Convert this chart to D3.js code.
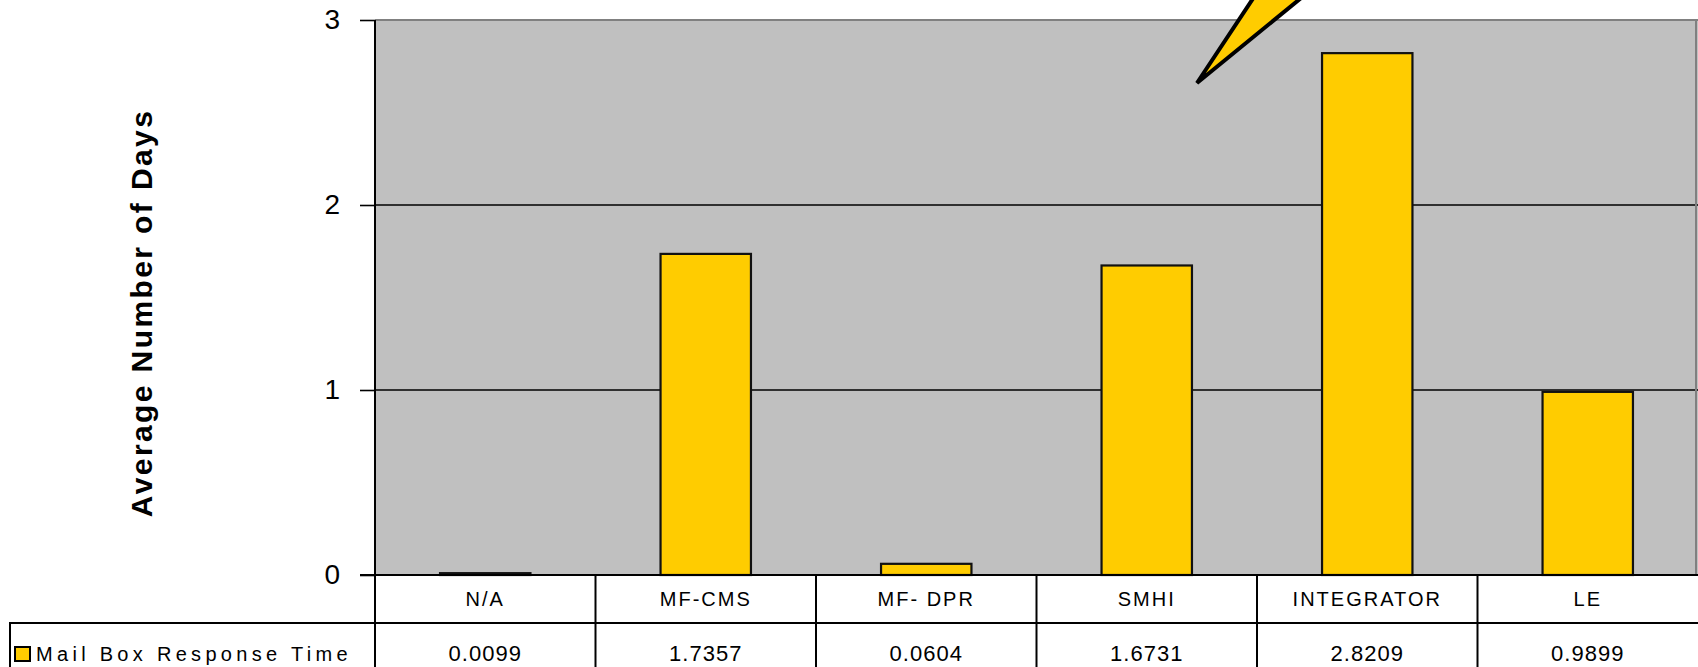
<!DOCTYPE html>
<html>
<head>
<meta charset="utf-8">
<script src="https://cdn.jsdelivr.net/npm/d3@7"></script>
<style>
  html, body { margin: 0; padding: 0; background: #fff; }
  svg { display: block; }
  text { font-family: "Liberation Sans", Arial, sans-serif; fill: #000; }
</style>
</head>
<body>
<svg id="chart" width="1698" height="667"></svg>
<script>
(function () {
  'use strict';

  // chart data
  const categories = ['N/A', 'MF-CMS', 'MF- DPR', 'SMHI', 'INTEGRATOR', 'LE'];
  const responseDays = [0.0099, 1.7357, 0.0604, 1.6731, 2.8209, 0.9899];
  const valueLabels = ['0.0099', '1.7357', '0.0604', '1.6731', '2.8209', '0.9899'];
  const seriesName = 'Mail Box Response Time';
  const yTicks = [0, 1, 2, 3];
  const yTitle = 'Average Number of Days';

  const H = 667;
  const plot = { left: 375, right: 1698, top: 20, bottom: 575 };
  const rowH = 48;
  const legendLeft = 9;
  const yellow = '#ffcc00';

  const svg = d3.select('#chart');

  const y = d3.scaleLinear().domain([0, 3]).range([plot.bottom, plot.top]);
  const x = d3.scaleBand().domain(categories)
    .range([plot.left, plot.right])
    .paddingInner(0.59).paddingOuter(0.295);
  const col = d3.scaleBand().domain(categories)
    .range([plot.left, plot.right]);

  // plot background
  svg.append('rect')
    .attr('x', plot.left).attr('y', plot.top)
    .attr('width', plot.right - plot.left).attr('height', plot.bottom - plot.top)
    .attr('fill', '#c0c0c0');

  // gridlines
  svg.append('g').selectAll('line')
    .data(yTicks.filter((d) => d > 0 && d < 3))
    .enter().append('line')
    .attr('x1', plot.left).attr('x2', plot.right)
    .attr('y1', (d) => y(d)).attr('y2', (d) => y(d))
    .attr('stroke', '#000').attr('stroke-width', 1.6);

  // plot area border (top / right)
  svg.append('line')
    .attr('x1', plot.left).attr('x2', plot.right)
    .attr('y1', y(3)).attr('y2', y(3))
    .attr('stroke', '#808080').attr('stroke-width', 2);
  svg.append('line')
    .attr('x1', plot.right - 2).attr('x2', plot.right - 2)
    .attr('y1', plot.top).attr('y2', plot.bottom)
    .attr('stroke', '#808080').attr('stroke-width', 2);

  // bars
  svg.append('g').selectAll('rect')
    .data(responseDays)
    .enter().append('rect')
    .attr('x', (d, i) => x(categories[i]))
    .attr('y', (d) => y(d))
    .attr('width', x.bandwidth())
    .attr('height', (d) => y(0) - y(d))
    .attr('fill', yellow)
    .attr('stroke', '#111')
    .attr('stroke-width', 2.2);

  // y axis
  const axis = d3.axisLeft(y)
    .tickValues(yTicks)
    .tickSize(15)
    .tickPadding(20)
    .tickFormat(d3.format('d'));
  const gAxis = svg.append('g')
    .attr('transform', 'translate(' + plot.left + ',0)')
    .call(axis);
  gAxis.select('.domain').remove();
  gAxis.selectAll('.tick line').attr('stroke', '#000').attr('stroke-width', 1.6);
  gAxis.selectAll('.tick text')
    .attr('font-size', 28)
    .attr('font-family', '"Liberation Sans", Arial, sans-serif')
    .attr('fill', '#000');

  // vertical axis line running through the table
  svg.append('line')
    .attr('x1', plot.left).attr('x2', plot.left)
    .attr('y1', plot.top).attr('y2', H)
    .attr('stroke', '#000').attr('stroke-width', 2);

  // y title
  svg.append('text')
    .attr('transform', 'translate(141,' + ((108 + 518) / 2) + ') rotate(-90)')
    .attr('text-anchor', 'middle')
    .attr('dominant-baseline', 'central')
    .attr('font-size', 30)
    .attr('font-weight', 'bold')
    .attr('letter-spacing', 2.4)
    .text(yTitle);

  // data table
  const table = svg.append('g');
  const row1 = plot.bottom;
  const row2 = plot.bottom + rowH;

  table.append('line')
    .attr('x1', plot.left - 15).attr('x2', plot.right)
    .attr('y1', row1).attr('y2', row1)
    .attr('stroke', '#000').attr('stroke-width', 2);
  table.append('line')
    .attr('x1', legendLeft).attr('x2', plot.right)
    .attr('y1', row2).attr('y2', row2)
    .attr('stroke', '#000').attr('stroke-width', 2);
  table.append('line')
    .attr('x1', legendLeft + 1).attr('x2', legendLeft + 1)
    .attr('y1', row2).attr('y2', H)
    .attr('stroke', '#000').attr('stroke-width', 2);

  table.selectAll('line.col')
    .data(categories.slice(1))
    .enter().append('line')
    .attr('class', 'col')
    .attr('x1', (d) => col(d)).attr('x2', (d) => col(d))
    .attr('y1', row1).attr('y2', H)
    .attr('stroke', '#000').attr('stroke-width', 2);

  table.selectAll('text.cat')
    .data(categories)
    .enter().append('text')
    .attr('class', 'cat')
    .attr('x', (d) => col(d) + col.bandwidth() / 2)
    .attr('y', row1 + rowH / 2)
    .attr('text-anchor', 'middle')
    .attr('dominant-baseline', 'central')
    .attr('font-size', 20)
    .attr('letter-spacing', 2)
    .text((d) => d);

  table.selectAll('text.val')
    .data(valueLabels)
    .enter().append('text')
    .attr('class', 'val')
    .attr('x', (d, i) => col(categories[i]) + col.bandwidth() / 2)
    .attr('y', row2 + 30)
    .attr('text-anchor', 'middle')
    .attr('dominant-baseline', 'central')
    .attr('font-size', 22)
    .attr('letter-spacing', 1)
    .text((d) => d);

  // legend key + series name
  table.append('rect')
    .attr('x', 15).attr('y', row2 + 24)
    .attr('width', 15).attr('height', 14)
    .attr('fill', yellow)
    .attr('stroke', '#000').attr('stroke-width', 2);
  table.append('text')
    .attr('x', 36).attr('y', row2 + 31)
    .attr('dominant-baseline', 'central')
    .attr('font-size', 20)
    .attr('letter-spacing', 4.3)
    .text(seriesName);

  // callout bolt (annotation shape, partly outside the page)
  const bolt = [[1197, 83], [1256, -6], [1306, -6]];
  svg.append('polygon')
    .attr('points', bolt.map((p) => p.join(',')).join(' '))
    .attr('fill', yellow)
    .attr('stroke', '#000')
    .attr('stroke-width', 4)
    .attr('stroke-linejoin', 'miter');
}());
</script>
</body>
</html>
